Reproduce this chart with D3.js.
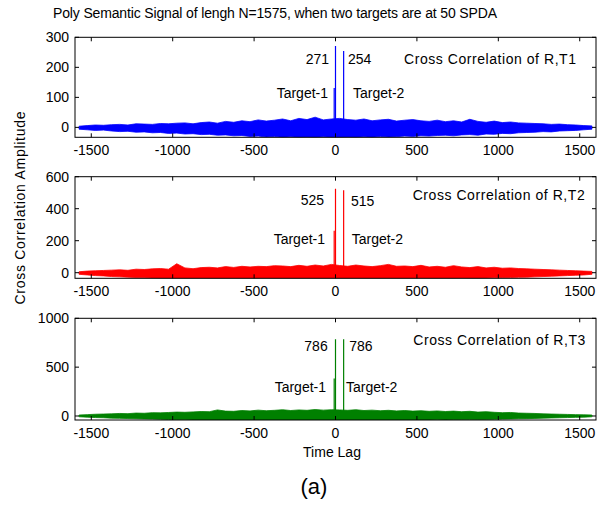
<!DOCTYPE html>
<html><head><meta charset="utf-8">
<script src="https://cdn.jsdelivr.net/npm/d3@7"></script>
<style>
body{margin:0;background:#fff}
svg{display:block}
text{font-family:"Liberation Sans",Arial,Helvetica,sans-serif;fill:#000}
</style>
</head><body>
<svg id="chart" width="600" height="517"></svg>
<script>
// ---------------- data ----------------
const titleText = "Poly Semantic Signal of lengh N=1575, when two targets are at 50 SPDA";
const xLabel = "Time Lag";
const yLabel = "Cross Correlation Amplitude";
const caption = "(a)";
const xTicks = [-1500, -1000, -500, 0, 500, 1000, 1500];
const xDomain = [-1600, 1600];
// noise envelope (upper / lower) sampled every 50 lags from -1575 to 1575
const binStart = -1575, binStep = 50;

const panelNames = ["Cross Correlation of R,T1", "Cross Correlation of R,T2", "Cross Correlation of R,T3"];
const yTicks1 = [0, 100, 200, 300];
const yTicks2 = [0, 200, 400, 600];
const yTicks3 = [0, 500, 1000];
const yDomain1 = [-33, 300];
const yDomain2 = [-35, 600];
const yDomain3 = [-41, 1000];

const spikeLags = [-8, 0, 50];
const spikes1 = [131, 271, 254];
const spikes2 = [262, 525, 515];
const spikes3 = [385, 786, 786];
const peakLabels1 = ["271", "254"];
const peakLabels2 = ["525", "515"];
const peakLabels3 = ["786", "786"];
const targetLabels = ["Target-1", "Target-2"];

const hi1 = [4,6,8,7,9,10,8,12,11,10,13,12,14,15,12,16,18,14,20,17,22,19,25,21,24,28,22,30,26,34,25,28,
             30,26,24,28,22,25,27,21,24,26,22,20,24,19,22,18,27,20,17,21,16,18,15,14,13,12,10,11,9,8,6,5];
const lo1 = [-6,-8,-10,-9,-12,-14,-13,-16,-15,-18,-17,-20,-19,-22,-21,-24,-23,-26,-25,-28,-27,-30,-29,-32,-30,-33,-31,-33,-32,-33,-31,-33,
             -33,-32,-33,-31,-33,-30,-32,-31,-29,-30,-28,-29,-27,-26,-28,-25,-24,-26,-22,-23,-20,-21,-18,-17,-16,-14,-15,-12,-11,-10,-8,-6];
const hi2 = [6,10,12,14,16,18,15,22,20,24,26,22,56,30,25,32,34,30,38,33,40,36,40,38,44,42,38,46,40,48,42,52,
             45,40,48,42,38,44,52,40,42,38,46,36,40,34,44,36,32,38,30,34,28,30,26,24,22,20,18,16,14,12,10,8];
const lo2 = [-10,-14,-18,-20,-24,-26,-28,-30,-32,-33,-34,-35,-34,-35,-35,-34,-35,-35,-35,-34,-35,-35,-35,-34,-35,-35,-35,-35,-34,-35,-35,-35,
             -35,-35,-34,-35,-35,-35,-34,-35,-35,-35,-34,-35,-35,-34,-35,-33,-34,-35,-33,-32,-31,-30,-29,-28,-26,-24,-22,-20,-18,-16,-14,-10];
const hi3 = [10,14,18,20,22,26,24,30,28,34,32,36,40,38,42,46,44,62,50,48,56,52,60,54,58,64,56,62,58,66,60,64,
             62,58,64,56,60,54,58,52,56,50,54,48,52,46,50,44,48,40,44,38,34,36,30,28,26,22,20,18,16,14,12,10];
const lo3 = [-8,-12,-16,-18,-22,-24,-26,-28,-30,-32,-34,-36,-38,-39,-40,-41,-40,-41,-41,-40,-41,-41,-40,-41,-41,-41,-40,-41,-41,-41,-41,-41,
             -41,-41,-41,-40,-41,-41,-41,-40,-41,-41,-40,-41,-39,-40,-38,-39,-37,-36,-35,-34,-32,-30,-28,-27,-25,-22,-20,-18,-16,-14,-12,-8];

const colors = ["#0000ff", "#ff0000", "#008000"];

// ---------------- layout ----------------
const svg = d3.select("#chart");
const X0 = 75, X1 = 596;
const panels = [
  {top: 37.3, bottom: 137.3, yDomain: yDomain1, yTicks: yTicks1, hi: hi1, lo: lo1, spikes: spikes1, peaks: peakLabels1,
   lab: {p1:[329,64], p2:[348,64], t1:[328,97.7], t2:[353,97.7], name:[404,64]}},
  {top: 176.7, bottom: 278.3, yDomain: yDomain2, yTicks: yTicks2, hi: hi2, lo: lo2, spikes: spikes2, peaks: peakLabels2,
   lab: {p1:[324,205], p2:[351,205.5], t1:[325,244], t2:[351.7,244], name:[412.7,200]}},
  {top: 318.3, bottom: 420, yDomain: yDomain3, yTicks: yTicks3, hi: hi3, lo: lo3, spikes: spikes3, peaks: peakLabels3,
   lab: {p1:[327.7,351], p2:[349.3,351], t1:[326,391.7], t2:[346,391.7], name:[413.3,345]}}
];

const x = d3.scaleLinear().domain(xDomain).range([X0, X1]);

panels.forEach((p, i) => {
  const y = d3.scaleLinear().domain(p.yDomain).range([p.bottom, p.top]);
  const g = svg.append("g");
  const clipId = "clip" + i;
  svg.append("clipPath").attr("id", clipId).append("rect")
    .attr("x", X0).attr("y", p.top).attr("width", X1 - X0).attr("height", p.bottom - p.top);

  const pts = p.hi.map((h, k) => ({lag: binStart + k * binStep, hi: h, lo: p.lo[k]}));
  const plot = g.append("g").attr("clip-path", `url(#${clipId})`);
  plot.append("path").datum(pts)
    .attr("d", d3.area().x(d => x(d.lag)).y0(d => y(d.lo)).y1(d => y(d.hi)))
    .attr("fill", colors[i]).attr("stroke", colors[i]).attr("stroke-width", 0.8);

  plot.selectAll("line.spike").data(spikeLags.map((l, k) => ({lag: l, v: p.spikes[k]})))
    .join("line").attr("class", "spike")
    .attr("x1", d => x(d.lag)).attr("x2", d => x(d.lag))
    .attr("y1", y(0)).attr("y2", d => y(d.v))
    .attr("stroke", colors[i]).attr("stroke-width", 1.2);

  g.append("rect").attr("x", X0).attr("y", p.top).attr("width", X1 - X0).attr("height", p.bottom - p.top)
    .attr("fill", "none").attr("stroke", "#000").attr("stroke-width", 1);

  const tl = 4;
  xTicks.forEach(t => {
    g.append("line").attr("x1", x(t)).attr("x2", x(t)).attr("y1", p.bottom).attr("y2", p.bottom - tl).attr("stroke", "#000");
    g.append("line").attr("x1", x(t)).attr("x2", x(t)).attr("y1", p.top).attr("y2", p.top + tl).attr("stroke", "#000");
    g.append("text").attr("x", x(t)).attr("y", p.bottom + 18).attr("text-anchor", "middle")
      .attr("font-size", 14).text(t);
  });
  p.yTicks.forEach(t => {
    g.append("line").attr("x1", X0).attr("x2", X0 + tl).attr("y1", y(t)).attr("y2", y(t)).attr("stroke", "#000");
    g.append("line").attr("x1", X1).attr("x2", X1 - tl).attr("y1", y(t)).attr("y2", y(t)).attr("stroke", "#000");
    g.append("text").attr("x", 69).attr("y", y(t) + 5).attr("text-anchor", "end")
      .attr("font-size", 14).text(t);
  });

  const L = p.lab;
  g.append("text").attr("x", L.p1[0]).attr("y", L.p1[1]).attr("text-anchor", "end").attr("font-size", 14).text(p.peaks[0]);
  g.append("text").attr("x", L.p2[0]).attr("y", L.p2[1]).attr("font-size", 14).text(p.peaks[1]);
  g.append("text").attr("x", L.t1[0]).attr("y", L.t1[1]).attr("text-anchor", "end").attr("font-size", 14).text(targetLabels[0]);
  g.append("text").attr("x", L.t2[0]).attr("y", L.t2[1]).attr("font-size", 14).text(targetLabels[1]);
  g.append("text").attr("x", L.name[0]).attr("y", L.name[1]).attr("font-size", 14)
    .attr("textLength", 172).attr("lengthAdjust", "spacing").text(panelNames[i]);
});

svg.append("text").attr("x", 53).attr("y", 18).attr("font-size", 14)
  .attr("textLength", 444).attr("lengthAdjust", "spacing").text(titleText);
svg.append("text").attr("x", 332).attr("y", 457).attr("text-anchor", "middle").attr("font-size", 14).text(xLabel);
svg.append("text").attr("transform", "translate(25,208) rotate(-90)").attr("text-anchor", "middle")
  .attr("font-size", 14).attr("textLength", 193).attr("lengthAdjust", "spacing").text(yLabel);
svg.append("text").attr("x", 314).attr("y", 494).attr("text-anchor", "middle")
  .attr("font-family", "'Liberation Serif','Times New Roman',serif").attr("font-size", 22).text(caption);
</script>
</body></html>
